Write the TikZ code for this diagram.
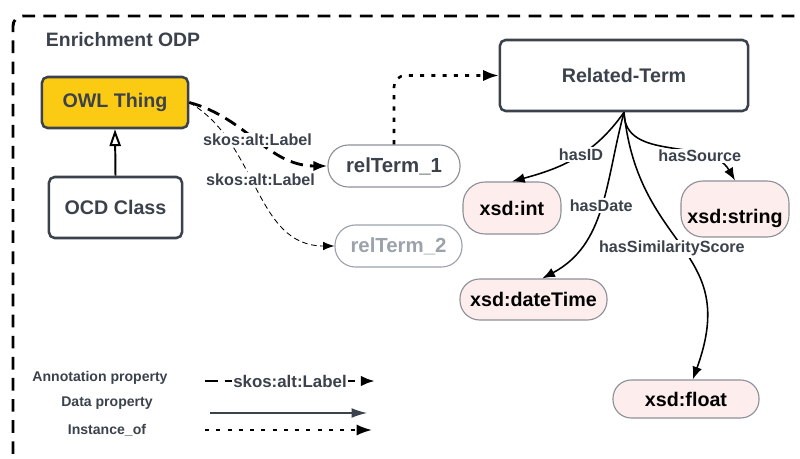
\documentclass[tikz,border=0pt]{standalone}
\usepackage{fontspec}
\setmainfont{Liberation Sans}
\usetikzlibrary{arrows.meta, positioning, calc}
\definecolor{slate}{HTML}{3B424C}
\definecolor{owlgold}{HTML}{FBCB14}
\definecolor{litpink}{HTML}{FDEDEC}
\definecolor{rimgrey}{HTML}{8C9199}
\definecolor{fadegrey}{HTML}{9BA2AC}

\begin{document}
\begin{tikzpicture}[x=0.025cm, y=-0.025cm,
  classbox/.style={draw=slate, line width=1.8pt, rounded corners=4pt, text=slate, font=\fontsize{14}{16}\selectfont\bfseries},
  termnode/.style={draw=rimgrey, line width=0.8pt, rounded corners=14.5pt, inner xsep=2pt, text=slate, font=\fontsize{14.5}{16}\selectfont\bfseries},
  littype/.style={draw=rimgrey, line width=0.8pt, fill=litpink, inner xsep=2pt, text=black, font=\fontsize{14}{16}\selectfont\bfseries},
  edgelabel/.style={fill=white, inner sep=1pt, text=slate, font=\fontsize{11.5}{13}\selectfont\bfseries},
  keylabel/.style={text=slate, font=\fontsize{10}{12}\selectfont\bfseries},
  dataprop/.style={line width=1.1pt, -{Latex[length=9pt,width=7pt]}},
  annprop/.style={line width=2pt, dash pattern=on 9pt off 5pt, -{Latex[length=10pt,width=7.5pt]}},
  instof/.style={line width=1.8pt, dash pattern=on 3pt off 5pt, -{Latex[length=11pt,width=8pt]}},
]
\useasboundingbox (0,0) rectangle (800,459);

% ODP frame
\draw[line width=2.1pt, dash pattern=on 9pt off 6pt, rounded corners=7pt] (13,475) -- (13,16) -- (815,16);
\node[anchor=west, text=slate, font=\fontsize{13.8}{15}\selectfont\bfseries] (title) at (41,40) {Enrichment ODP};

% Classes
\node[classbox, fill=owlgold, minimum width=3.65cm, minimum height=1.275cm] (owl) at (115,102.5) {OWL Thing};
\node[classbox, fill=white, minimum width=3.325cm, minimum height=1.525cm] (ocd) at (115.5,207.5) {OCD Class};
\node[classbox, minimum width=6.2cm, minimum height=1.775cm] (rt) at (624,75.5) {Related-Term};

% Instances
\node[termnode, minimum width=3.3cm, minimum height=1.05cm] (term1) at (394,166) {relTerm\_1};
\node[termnode, draw=fadegrey, text=fadegrey, minimum width=3.175cm, minimum height=1.05cm] (term2) at (398.5,246) {relTerm\_2};

% Datatypes
\node[littype, rounded corners=0.55cm, minimum width=2.45cm, minimum height=1.3cm] (int) at (512,208) {xsd:int};
\node[littype, rounded corners=0.55cm, minimum width=2.7cm, minimum height=1.4cm] (str) at (735,209) {\raisebox{-7pt}[\height][\depth]{xsd:string}};
\node[littype, rounded corners=14pt, minimum width=3.675cm, minimum height=1.025cm] (dt) at (533.5,299.5) {xsd:dateTime};
\node[littype, rounded corners=13pt, minimum width=3.65cm, minimum height=0.95cm] (flt) at (686,399) {xsd:float};

% Subclass
\draw[line width=1.4pt, -{Triangle[open, length=12pt, width=8pt]}] (ocd.north) -- (owl.south);

% Annotation properties
\draw[line width=0.6pt, dash pattern=on 4pt off 2.5pt, -{Latex[length=8pt,width=6pt]}] (owl.east) to[out=-30, in=180] node[edgelabel, pos=0.45, xshift=0.2cm] {skos:alt:Label} (term2.west);
\draw[annprop] (owl.east) to[out=-15, in=180] node[edgelabel] {skos:alt:Label} (term1.west);

% Instance_of
\draw[instof, rounded corners=8pt] (term1.north) |- (rt.west);

% Data properties
\draw[dataprop] (rt.south) to[out=235, in=15] node[edgelabel, pos=0.45] {hasID} (int.north);
\draw[dataprop] (rt.south) to[out=255, in=28] node[edgelabel, pos=0.48] {hasDate} ([xshift=0.22cm]dt.north);
\draw[dataprop] (rt.south) to[out=276, in=70, looseness=1.3] node[edgelabel, pos=0.5, xshift=-0.25cm] {hasSimilarityScore} ([xshift=0.17cm]flt.north);
\draw[dataprop] (rt.south) to[out=270, in=120] node[edgelabel, pos=0.7] {hasSource} (str.north);

% Legend
\node[keylabel] (annkey) at (100,378) {Annotation property};
\node[keylabel] (datakey) at (107,403) {Data property};
\node[keylabel] (instkey) at (107,430) {Instance\_of};
\coordinate (a1) at (205,381);
\coordinate (a2) at (375,381);
\coordinate (d1) at (210,413);
\coordinate (d2) at (367,413);
\coordinate (i1) at (205,430);
\coordinate (i2) at (372,430);
\draw[annprop] (a1) -- node[edgelabel, font=\fontsize{12}{13}\selectfont\bfseries] {skos:alt:Label} (a2);
\draw[line width=0.9pt, draw=slate, fill=slate, -{Latex[length=11pt,width=7pt]}] (d1) -- (d2);
\draw[instof, line width=1.5pt] (i1) -- (i2);
\end{tikzpicture}
\end{document}
